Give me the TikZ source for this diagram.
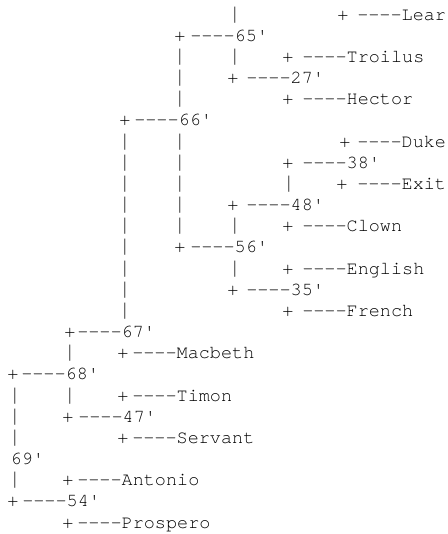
\documentclass[tikz,border=0pt]{standalone}
\usepackage{fontspec}
\setmonofont{TeX Gyre Cursor}
\tikzstyle{glyph} = [inner sep=0pt, anchor=base, font=\ttfamily\fontsize{18.5}{22}\selectfont]
\tikzstyle{leaf} = [glyph, anchor=base west]
\newcommand{\vbar}{\scalebox{1}[1.2]{|}}

\begin{document}
\begin{tikzpicture}[x=1pt,y=-21.17pt]
\useasboundingbox (0,0.055) rectangle (448,25.28);
% vertical bars
\foreach \c/\r in {235/1,235/3,180/3,180/4,180/5,125/7,180/7,125/8,180/8,
  125/9,180/9,289/9,125/10,180/10,125/11,180/11,235/11,125/12,125/13,235/13,
  125/14,125/15,70/17,15/19,70/19,15/20,15/21,15/23}
  \node[glyph] (bar-\c-\r) at (\c,\r) {\vbar};
% joints
\node[glyph] (pLear) at (343,1) {+};
\node[glyph] (p65) at (180,2) {+};
\node[glyph] (pTroilus) at (288,3) {+};
\node[glyph] (p27) at (233,4) {+};
\node[glyph] (pHector) at (288,5) {+};
\node[glyph] (p66) at (125,6) {+};
\node[glyph] (pDuke) at (345,7) {+};
\node[glyph] (p38) at (288,8) {+};
\node[glyph] (pExit) at (342,9) {+};
\node[glyph] (p48) at (233,10) {+};
\node[glyph] (pClown) at (288,11) {+};
\node[glyph] (p56) at (180,12) {+};
\node[glyph] (pEnglish) at (288,13) {+};
\node[glyph] (p35) at (233,14) {+};
\node[glyph] (pFrench) at (288,15) {+};
\node[glyph] (p67) at (70,16) {+};
\node[glyph] (pMacbeth) at (123,17) {+};
\node[glyph] (p68) at (13,18) {+};
\node[glyph] (pTimon) at (123,19) {+};
\node[glyph] (p47) at (68,20) {+};
\node[glyph] (pServant) at (123,21) {+};
\node[glyph] (pAntonio) at (68,23) {+};
\node[glyph] (p54) at (13,24) {+};
\node[glyph] (pProspero) at (68,25) {+};
% labels
\node[leaf] (lear) at (357.1,1) {----Lear};
\node[leaf] (n65) at (190.1,2) {----65'};
\node[leaf] (troilus) at (302.1,3) {----Troilus};
\node[leaf] (n27) at (246.1,4) {----27'};
\node[leaf] (hector) at (302.1,5) {----Hector};
\node[leaf] (n66) at (134.1,6) {----66'};
\node[leaf] (duke) at (357.1,7) {----Duke};
\node[leaf] (n38) at (302.1,8) {----38'};
\node[leaf] (exit) at (357.1,9) {----Exit};
\node[leaf] (n48) at (246.1,10) {----48'};
\node[leaf] (clown) at (302.1,11) {----Clown};
\node[leaf] (n56) at (190.1,12) {----56'};
\node[leaf] (english) at (302.1,13) {----English};
\node[leaf] (n35) at (246.1,14) {----35'};
\node[leaf] (french) at (302.1,15) {----French};
\node[leaf] (n67) at (77.1,16) {----67'};
\node[leaf] (macbeth) at (132.1,17) {----Macbeth};
\node[leaf] (n68) at (21.1,18) {----68'};
\node[leaf] (timon) at (132.1,19) {----Timon};
\node[leaf] (n47) at (78.1,20) {----47'};
\node[leaf] (servant) at (132.1,21) {----Servant};
\node[leaf] (n69) at (10.5,22) {69'};
\node[leaf] (antonio) at (77.1,23) {----Antonio};
\node[leaf] (n54) at (22.1,24) {----54'};
\node[leaf] (prospero) at (77.1,25) {----Prospero};
\end{tikzpicture}
\end{document}
